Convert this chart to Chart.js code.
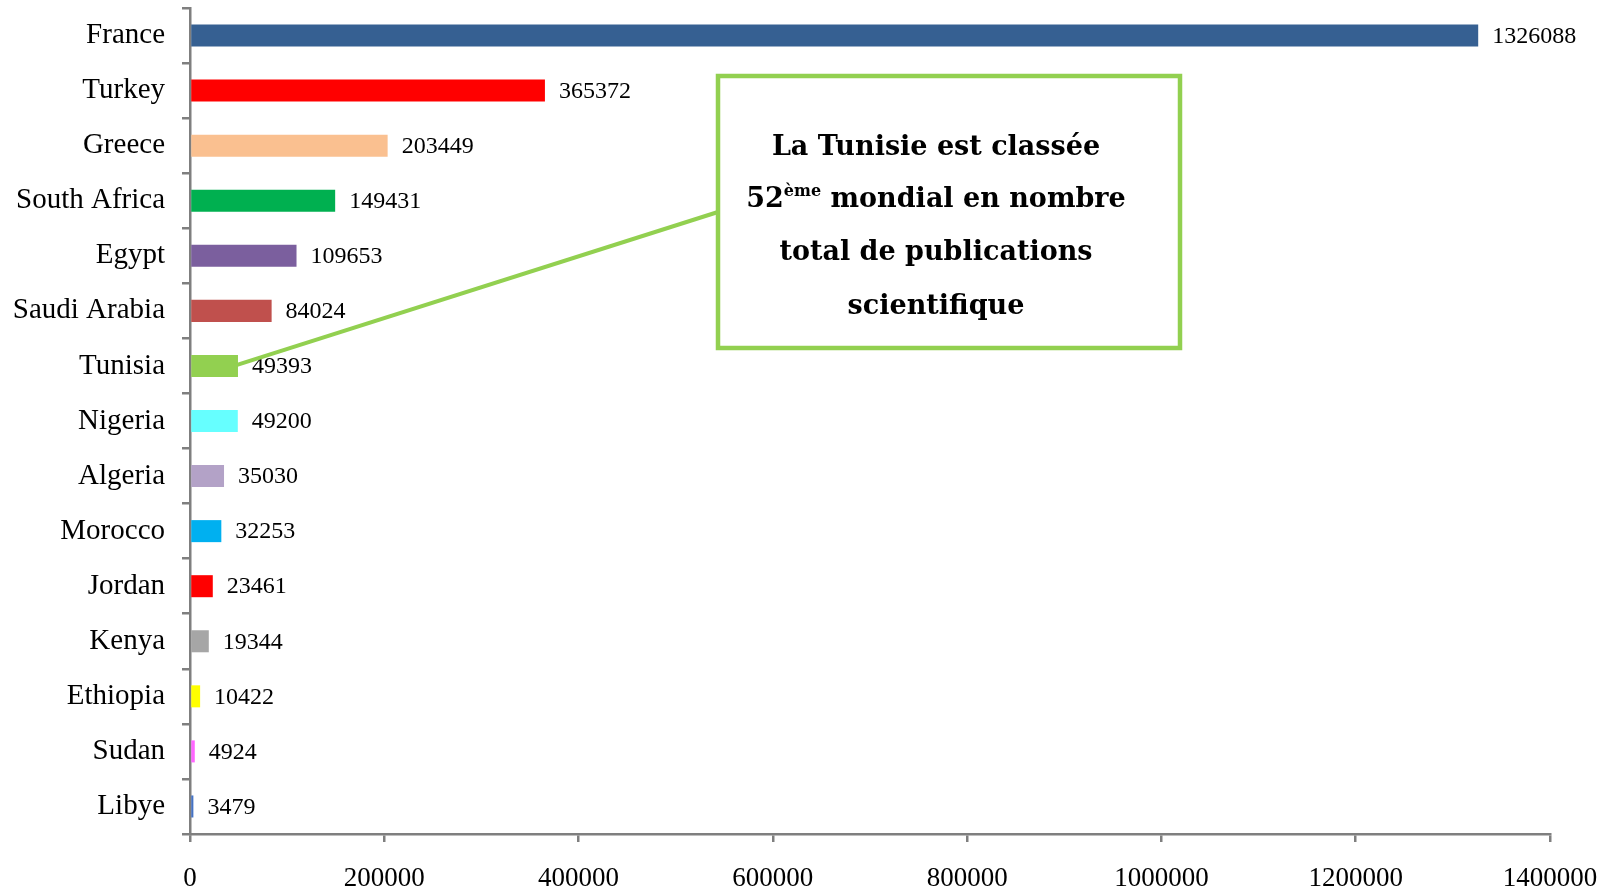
<!DOCTYPE html>
<html lang="fr">
<head>
<meta charset="utf-8">
<title>Publications scientifiques</title>
<script src="https://cdn.jsdelivr.net/npm/chart.js@4/dist/chart.umd.min.js"></script>
<style>
  html, body { margin: 0; padding: 0; background: #ffffff; }
  #wrap { width: 1604px; height: 890px; position: relative; }
</style>
</head>
<body>
<div id="wrap"><canvas id="pubChart"></canvas></div>
<script>
const countries = [
  'France', 'Turkey', 'Greece', 'South Africa', 'Egypt', 'Saudi Arabia', 'Tunisia',
  'Nigeria', 'Algeria', 'Morocco', 'Jordan', 'Kenya', 'Ethiopia', 'Sudan', 'Libye',
];
const publications = [
  1326088, 365372, 203449, 149431, 109653, 84024, 49393,
  49200, 35030, 32253, 23461, 19344, 10422, 4924, 3479,
];
const barColors = [
  '#366092', '#ff0000', '#fac090', '#00b050', '#7b5f9e', '#c0504d', '#92d050',
  '#66ffff', '#b3a2c7', '#00b0f0', '#ff0000', '#a6a6a6', '#ffff00', '#ff66ff', '#4472c4',
];
const xTicks = [0, 200000, 400000, 600000, 800000, 1000000, 1200000, 1400000];

const calloutLines = ['La Tunisie est classée', 'mondial en nombre', 'total de publications', 'scientifique'];
const highlighted = 'Tunisia';

const serif = '"Liberation Serif", "Times New Roman", serif';
const boxSerif = '"DejaVu Serif", serif';
const axisGrey = '#7f7f7f';
const green = '#92d050';

// values printed at the end of each bar
const valueLabels = {
  id: 'valueLabels',
  afterDatasetsDraw(chart) {
    const ctx = chart.ctx;
    const meta = chart.getDatasetMeta(0);
    ctx.save();
    ctx.font = `24px ${serif}`;
    ctx.fillStyle = '#000000';
    ctx.textAlign = 'left';
    ctx.textBaseline = 'middle';
    meta.data.forEach((bar, i) => {
      ctx.fillText(String(publications[i]), bar.x + 14, bar.y + 1);
    });
    ctx.restore();
  },
};

// text box with its pointer line to the Tunisia bar
const callout = {
  id: 'callout',
  afterDraw(chart) {
    const ctx = chart.ctx;
    const idx = countries.indexOf(highlighted);
    const startX = chart.scales.x.getPixelForValue(publications[idx]);
    const startY = chart.scales.y.getPixelForValue(idx);

    const box = { left: 718, top: 76, right: 1180, bottom: 348 };

    ctx.save();
    ctx.strokeStyle = green;
    ctx.lineWidth = 4;
    ctx.beginPath();
    ctx.moveTo(startX - 4, startY);
    ctx.lineTo(box.left, 212);
    ctx.stroke();

    ctx.fillStyle = '#ffffff';
    ctx.fillRect(box.left, box.top, box.right - box.left, box.bottom - box.top);
    ctx.lineWidth = 4.5;
    ctx.strokeRect(box.left, box.top, box.right - box.left, box.bottom - box.top);

    const cx = 936;
    ctx.fillStyle = '#000000';
    ctx.textBaseline = 'middle';
    ctx.textAlign = 'left';
    const mainFont = `bold 27px ${boxSerif}`;
    const supFont = `bold 16px ${boxSerif}`;

    ctx.font = mainFont;
    let w = ctx.measureText(calloutLines[0]).width;
    ctx.fillText(calloutLines[0], cx - w / 2, 148);

    // second line: 52 + superscript ème + rest
    const rank = '52';
    const sup = 'ème';
    const rest = ' ' + calloutLines[1];
    const wRank = ctx.measureText(rank).width;
    const wRest = ctx.measureText(rest).width;
    ctx.font = supFont;
    const wSup = ctx.measureText(sup).width;
    let x = cx - (wRank + wSup + wRest) / 2;
    ctx.font = mainFont;
    ctx.fillText(rank, x, 200);
    x += wRank;
    ctx.font = supFont;
    ctx.fillText(sup, x, 192);
    x += wSup;
    ctx.font = mainFont;
    ctx.fillText(rest, x, 200);

    w = ctx.measureText(calloutLines[2]).width;
    ctx.fillText(calloutLines[2], cx - w / 2, 253);
    w = ctx.measureText(calloutLines[3]).width;
    ctx.fillText(calloutLines[3], cx - w / 2, 307);
    ctx.restore();
  },
};

new Chart(document.getElementById('pubChart'), {
  type: 'bar',
  data: {
    labels: countries,
    datasets: [{
      data: publications,
      backgroundColor: barColors,
      borderWidth: 0,
      barPercentage: 0.4,
      categoryPercentage: 1,
    }],
  },
  options: {
    indexAxis: 'y',
    responsive: true,
    maintainAspectRatio: false,
    animation: false,
    layout: { padding: { top: 8, right: 54, left: 0, bottom: 0 } },
    plugins: {
      legend: { display: false },
      tooltip: { enabled: false },
    },
    scales: {
      x: {
        min: 0,
        max: 1400000,
        afterBuildTicks(scale) {
          scale.ticks = xTicks.map((v) => ({ value: v }));
        },
        afterFit(scale) {
          scale.height = 56;
          scale.paddingLeft = 0;
          scale.paddingRight = 0;
        },
        border: { color: axisGrey, width: 2.5 },
        grid: { drawOnChartArea: false, drawTicks: true, tickLength: 8, color: axisGrey, lineWidth: 2.5 },
        ticks: {
          color: '#000000',
          font: { family: serif, size: 27 },
          padding: 21,
          maxRotation: 0,
          autoSkip: false,
          callback: (v) => String(v),
        },
      },
      y: {
        afterFit(scale) {
          scale.width = 190;
          scale.paddingTop = 0;
          scale.paddingBottom = 0;
        },
        border: { color: axisGrey, width: 2.5 },
        grid: { offset: true, drawOnChartArea: false, drawTicks: true, tickLength: 8, color: axisGrey, lineWidth: 2.5 },
        ticks: {
          color: '#000000',
          font: { family: serif, size: 29 },
          padding: 17,
          autoSkip: false,
        },
      },
    },
  },
  plugins: [valueLabels, callout],
});
</script>
</body>
</html>
